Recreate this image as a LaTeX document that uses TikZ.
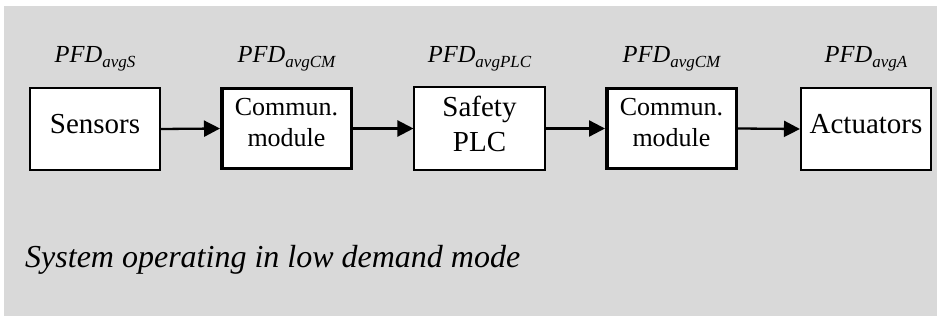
\documentclass[tikz,border=0pt]{standalone}
\usepackage{fontspec}
\setmainfont{Liberation Serif}
\usetikzlibrary{arrows.meta}
\definecolor{bggray}{HTML}{D9D9D9}
\begin{document}
\begin{tikzpicture}[x=1pt,y=-1pt,
  thinbox/.style={draw=black,fill=white,line width=1.6pt,minimum width=130.5pt,minimum height=82.5pt,inner sep=0pt},
  thickbox/.style={draw=black,fill=white,line width=3.5pt,minimum width=129.5pt,minimum height=80pt,inner sep=0pt},
  bigtxt/.style={anchor=base,inner sep=0pt,font=\fontsize{29}{29}\selectfont},
  cmtxt/.style={anchor=base,inner sep=0pt,font=\fontsize{26}{26}\selectfont},
  pfd/.style={anchor=base,inner sep=0pt,font=\fontsize{24.5}{24.5}\selectfont\itshape},
  conn/.style={line width=2.3pt,-{Triangle[length=16pt,width=16pt]}}]
\useasboundingbox (0,0) rectangle (941,320);
\fill[white] (0,0) rectangle (941,320);
\fill[bggray] (4,6) rectangle (937,316);
\newcommand{\pfdsub}[1]{PFD\raisebox{-5.4pt}{\fontsize{17}{17}\selectfont #1}}
% boxes
\node[thinbox] (s) at (95,129) {};
\node[thickbox] (c1) at (286.5,128.5) {};
\node[thinbox] (p) at (479.5,128.5) {};
\node[thickbox] (c2) at (671.5,128.5) {};
\node[thinbox] (a) at (866,129) {};
% box texts
\node[bigtxt] (st) at (95,134) {Sensors};
\node[cmtxt] (c1a) at (286.5,116) {Commun.};
\node[cmtxt] (c1b) at (286.5,147) {module};
\node[bigtxt] (pa) at (479.5,117) {Safety};
\node[bigtxt] (pb) at (479.5,152) {PLC};
\node[cmtxt] (c2a) at (671.5,116) {Commun.};
\node[cmtxt] (c2b) at (671.5,147) {module};
\node[bigtxt] (at) at (866,134) {Actuators};
% labels
\node[pfd] (ls) at (95,62.5) {\pfdsub{avgS}};
\node[pfd] (lc1) at (286.5,62.5) {\pfdsub{avgCM}};
\node[pfd] (lp) at (479.5,62.5) {\pfdsub{avgPLC}};
\node[pfd] (lc2) at (671.5,62.5) {\pfdsub{avgCM}};
\node[pfd] (la) at (866,62.5) {\pfdsub{avgA}};
% connectors
\draw[conn] (s.east) -- (c1.west);
\draw[conn] (c1.east) -- (p.west);
\draw[conn] (p.east) -- (c2.west);
\draw[conn] (c2.east) -- (a.west);
% caption
\node[anchor=base west,inner sep=0pt,font=\fontsize{32}{32}\selectfont\itshape] (cap) at (25,267) {System operating in low demand mode};
\end{tikzpicture}
\end{document}
